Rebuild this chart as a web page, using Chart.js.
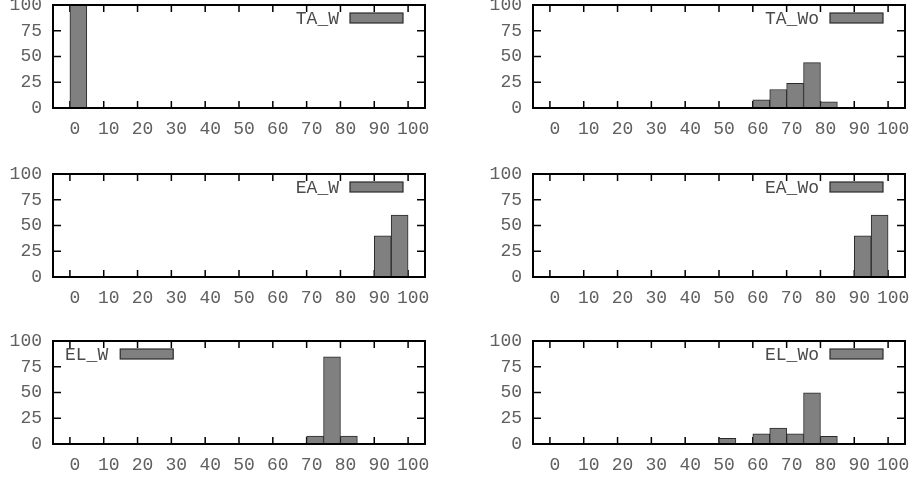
<!DOCTYPE html>
<html>
<head>
<meta charset="utf-8">
<script src="https://cdn.jsdelivr.net/npm/chart.js@4.4.0/dist/chart.umd.min.js"></script>
<style>
html, body { margin: 0; padding: 0; background: #fff; overflow: hidden; width: 912px; height: 479px; }
.panel { position: absolute; width: 456px; height: 158px; }
</style>
</head>
<body>
<div class="panel" style="left:0px;top:-10px"><canvas id="ta_w" width="456" height="158"></canvas></div>
<div class="panel" style="left:456px;top:-10px"><canvas id="ta_wo" width="456" height="158"></canvas></div>
<div class="panel" style="left:0px;top:159px"><canvas id="ea_w" width="456" height="158"></canvas></div>
<div class="panel" style="left:456px;top:159px"><canvas id="ea_wo" width="456" height="158"></canvas></div>
<div class="panel" style="left:0px;top:326px"><canvas id="el_w" width="456" height="158"></canvas></div>
<div class="panel" style="left:456px;top:326px"><canvas id="el_wo" width="456" height="158"></canvas></div>
<script>
// bin start values (width 5)
var bins = [0, 5, 10, 15, 20, 25, 30, 35, 40, 45, 50, 55, 60, 65, 70, 75, 80, 85, 90, 95];
var xTicks = [0, 10, 20, 30, 40, 50, 60, 70, 80, 90, 100];
var yTicks = [0, 25, 50, 75, 100];

var taW  = [100, 0, 0, 0, 0, 0, 0, 0, 0, 0, 0, 0, 0, 0, 0, 0, 0, 0, 0, 0];
var taWo = [0, 0, 0, 0, 0, 0, 0, 0, 0, 0, 0, 0, 8, 18, 24, 44, 6, 0, 0, 0];
var eaW  = [0, 0, 0, 0, 0, 0, 0, 0, 0, 0, 0, 0, 0, 0, 0, 0, 0, 0, 40, 60];
var eaWo = [0, 0, 0, 0, 0, 0, 0, 0, 0, 0, 0, 0, 0, 0, 0, 0, 0, 0, 40, 60];
var elW  = [0, 0, 0, 0, 0, 0, 0, 0, 0, 0, 0, 0, 0, 0, 7.7, 84.6, 7.7, 0, 0, 0];
var elWo = [0, 0, 0, 0, 0, 0, 0, 0, 0, 0, 5.4, 0, 9.8, 15.5, 9.8, 49.6, 7.5, 0, 0, 0];

Chart.defaults.font.family = "'Liberation Mono', 'DejaVu Sans Mono', monospace";
Chart.defaults.font.size = 18;
Chart.defaults.color = '#606060';

var frame = {
    id: 'frame',
    beforeDatasetsDraw: function(chart) {
        var ctx = chart.ctx, a = chart.chartArea;
        var x = chart.scales.x, y = chart.scales.y;
        ctx.save();
        ctx.strokeStyle = '#000';
        ctx.lineWidth = 1.5;
        ctx.beginPath();
        x.ticks.forEach(function(t) {
            var px = x.getPixelForValue(t.value);
            ctx.moveTo(px, a.bottom); ctx.lineTo(px, a.bottom - 7);
            ctx.moveTo(px, a.top); ctx.lineTo(px, a.top + 7);
        });
        y.ticks.forEach(function(t) {
            var py = y.getPixelForValue(t.value);
            ctx.moveTo(a.left, py); ctx.lineTo(a.left + 8, py);
            ctx.moveTo(a.right, py); ctx.lineTo(a.right - 8, py);
        });
        ctx.stroke();
        ctx.restore();
    },
    afterDatasetsDraw: function(chart) {
        var ctx = chart.ctx, a = chart.chartArea;
        var ds = chart.data.datasets[0];
        var key = chart.options.plugins.frame;
        ctx.save();
        ctx.strokeStyle = '#000';
        ctx.lineWidth = 2;
        ctx.strokeRect(a.left, a.top, a.right - a.left, a.bottom - a.top);

        ctx.font = "18px 'Liberation Mono', monospace";
        ctx.fillStyle = '#4a4a4a';
        ctx.textBaseline = 'alphabetic';
        var bx, tw = ctx.measureText(ds.label).width;
        if (key.side == 'left') {
            ctx.textAlign = 'left';
            ctx.fillText(ds.label, a.left + 12, a.top + 19);
            bx = a.left + 12 + tw + 12;
        } else {
            bx = a.right - 75;
            ctx.textAlign = 'right';
            ctx.fillText(ds.label, bx - 11, a.top + 19);
        }
        ctx.fillStyle = ds.backgroundColor;
        ctx.fillRect(bx, a.top + 8, 53, 10);
        ctx.strokeStyle = ds.borderColor;
        ctx.lineWidth = 1.2;
        ctx.strokeRect(bx, a.top + 8, 53, 10);
        ctx.restore();
    }
};

function noPad(s) {
    s.paddingLeft = 0; s.paddingRight = 0;
    s.paddingTop = 0; s.paddingBottom = 0;
}

function makeHist(id, label, values, yWidth, rightPad, side) {
    var pts = bins.map(function(b, i) {
        return { x: b + 2.5, y: values[i] ? values[i] : null };
    });
    return new Chart(document.getElementById(id), {
        type: 'bar',
        data: {
            datasets: [{
                label: label,
                data: pts,
                backgroundColor: '#808080',
                borderColor: '#2a2a2a',
                borderWidth: 1,
                borderSkipped: false,
                barPercentage: 1,
                categoryPercentage: 1
            }]
        },
        options: {
            responsive: false,
            animation: false,
            layout: { padding: { top: 15, right: rightPad, left: 0, bottom: 0 } },
            plugins: {
                legend: { display: false },
                tooltip: { enabled: false },
                frame: { side: side }
            },
            scales: {
                x: {
                    type: 'linear',
                    min: -5,
                    max: 105,
                    offset: false,
                    grid: { display: false, drawTicks: false },
                    border: { display: false },
                    afterBuildTicks: function(s) { s.ticks = xTicks.map(function(v) { return { value: v }; }); },
                    afterFit: function(s) { s.height = 40; noPad(s); },
                    ticks: { padding: 10, labelOffset: 5, maxRotation: 0, autoSkip: false,
                        callback: function(v) { return String(v); } }
                },
                y: {
                    min: 0,
                    max: 100,
                    grid: { display: false, drawTicks: false },
                    border: { display: false },
                    afterBuildTicks: function(s) { s.ticks = yTicks.map(function(v) { return { value: v }; }); },
                    afterFit: function(s) { s.width = yWidth; noPad(s); },
                    ticks: { padding: 11, autoSkip: false, callback: function(v) { return String(v); } }
                }
            }
        },
        plugins: [frame]
    });
}

makeHist('ta_w', 'TA_W', taW, 53, 31, 'right');
makeHist('ta_wo', 'TA_Wo', taWo, 77, 7, 'right');
makeHist('ea_w', 'EA_W', eaW, 53, 31, 'right');
makeHist('ea_wo', 'EA_Wo', eaWo, 77, 7, 'right');
makeHist('el_w', 'EL_W', elW, 53, 31, 'left');
makeHist('el_wo', 'EL_Wo', elWo, 77, 7, 'right');
</script>
</body>
</html>
